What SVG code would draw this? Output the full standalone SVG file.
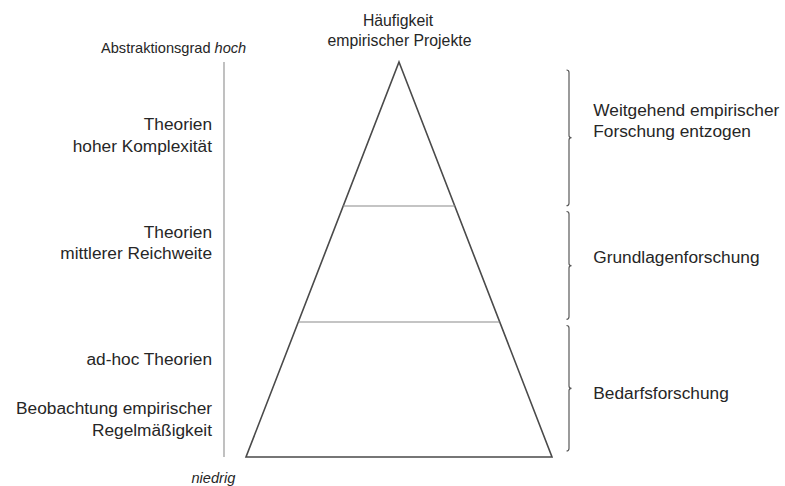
<svg xmlns="http://www.w3.org/2000/svg" width="785" height="486" viewBox="0 0 785 486">
  <style>
    text { font-family: "Liberation Sans", Arial, sans-serif; fill: #262626; }
    .lbl { font-size: 17.3px; }
    .small { font-size: 14.6px; }
    .top { font-size: 15.8px; }
    .it { font-style: italic; }
    .r { text-anchor: end; }
    .m { text-anchor: middle; }
    .pyr { fill: none; stroke: #4a4a4a; stroke-width: 1.6; stroke-linejoin: miter; }
    .band { fill: none; stroke: #8a8a8a; stroke-width: 1.2; }
    .axis { fill: none; stroke: #a6a6a6; stroke-width: 1.4; }
    .brace { fill: none; stroke: #595959; stroke-width: 1.2; }
  </style>

  <rect width="785" height="486" fill="#ffffff"/>

  <!-- abstraction axis -->
  <g id="axis">
    <line class="axis" x1="224" y1="62" x2="224" y2="457"/>
    <text class="small" x="101" y="52.5">Abstraktionsgrad <tspan class="it">hoch</tspan></text>
    <text class="small it" x="191.5" y="482.5">niedrig</text>
  </g>

  <!-- pyramid with its three bands -->
  <g id="pyramid">
    <polygon class="pyr" points="399,62 552,457 246,457"/>
    <line class="band" x1="343" y1="206" x2="455" y2="206"/>
    <line class="band" x1="298.5" y1="322" x2="499.5" y2="322"/>
    <text class="top m" x="398" y="26">Häufigkeit</text>
    <text class="top m" x="399.5" y="46">empirischer Projekte</text>
  </g>

  <!-- theory levels on the left -->
  <g id="level-complex">
    <text class="lbl r" x="212" y="130">Theorien</text>
    <text class="lbl r" x="212" y="151.7">hoher Komplexität</text>
  </g>
  <g id="level-middle">
    <text class="lbl r" x="212" y="238.3">Theorien</text>
    <text class="lbl r" x="212" y="259.3">mittlerer Reichweite</text>
  </g>
  <g id="level-adhoc">
    <text class="lbl r" x="212" y="365">ad-hoc Theorien</text>
  </g>
  <g id="level-observation">
    <text class="lbl r" x="212" y="414.3">Beobachtung empirischer</text>
    <text class="lbl r" x="212" y="436">Regelmäßigkeit</text>
  </g>

  <!-- research types on the right -->
  <g id="connectors">
    <path class="brace" d="M566.5,70 Q569,70 569,72.5 V135.5 Q569,137.7 571.5,137.7 Q569,137.7 569,140 V203.2 Q569,205.7 566.5,205.7"/>
    <path class="brace" d="M566.5,211.5 Q569,211.5 569,214 V263.5 Q569,265.7 571.5,265.7 Q569,265.7 569,268 V316.8 Q569,319.3 566.5,319.3"/>
    <path class="brace" d="M566.5,325.5 Q569,325.5 569,328 V386 Q569,388.3 571.5,388.3 Q569,388.3 569,390.6 V448.5 Q569,451 566.5,451"/>
  </g>
  <g id="research-withdrawn">
    <text class="lbl" x="593.3" y="115.5">Weitgehend empirischer</text>
    <text class="lbl" x="593.3" y="137">Forschung entzogen</text>
  </g>
  <g id="research-basic">
    <text class="lbl" x="593.3" y="263.3">Grundlagenforschung</text>
  </g>
  <g id="research-applied">
    <text class="lbl" x="593.3" y="399.3">Bedarfsforschung</text>
  </g>
</svg>
